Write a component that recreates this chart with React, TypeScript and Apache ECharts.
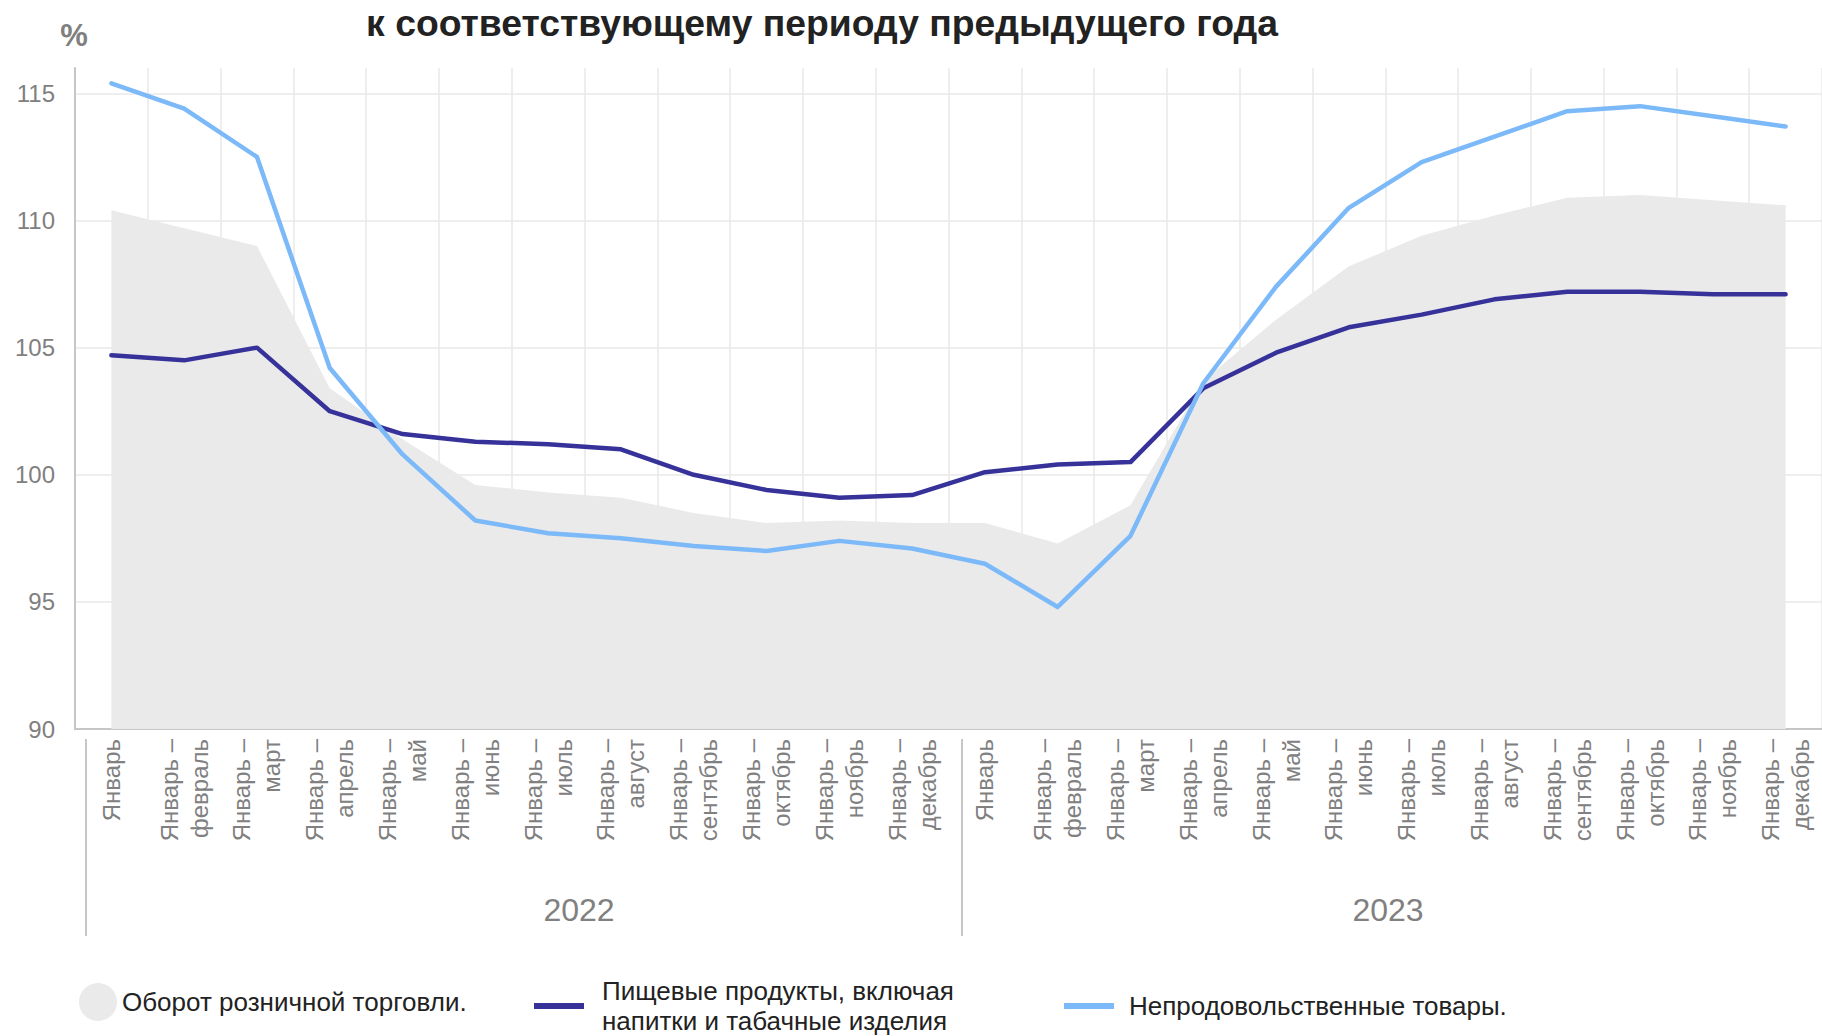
import React, { useEffect, useRef } from 'react';
import * as echarts from 'echarts';

const titleText = 'к соответствующему периоду предыдущего года';
const unitText = '%';
const years = ['2022', '2023'];
const periods = [
  'Январь',
  'Январь –\nфевраль',
  'Январь –\nмарт',
  'Январь –\nапрель',
  'Январь –\nмай',
  'Январь –\nиюнь',
  'Январь –\nиюль',
  'Январь –\nавгуст',
  'Январь –\nсентябрь',
  'Январь –\nоктябрь',
  'Январь –\nноябрь',
  'Январь –\nдекабрь',
];
const seriesNames = [
  'Оборот розничной торговли.',
  'Пищевые продукты, включая напитки и табачные изделия',
  'Непродовольственные товары.',
];
const retail = [110.4, 109.7, 109.0, 103.4, 101.4, 99.6, 99.3, 99.1, 98.5, 98.1, 98.2, 98.1, 98.1, 97.3, 98.8, 103.7, 106.1, 108.2, 109.4, 110.2, 110.9, 111.0, 110.8, 110.6];
const food = [104.7, 104.5, 105.0, 102.5, 101.6, 101.3, 101.2, 101.0, 100.0, 99.4, 99.1, 99.2, 100.1, 100.4, 100.5, 103.4, 104.8, 105.8, 106.3, 106.9, 107.2, 107.2, 107.1, 107.1];
const nonFood = [115.4, 114.4, 112.5, 104.2, 100.8, 98.2, 97.7, 97.5, 97.2, 97.0, 97.4, 97.1, 96.5, 94.8, 97.6, 103.6, 107.4, 110.5, 112.3, 113.3, 114.3, 114.5, 114.1, 113.7];

const FONT = '"Liberation Sans", Arial, Helvetica, sans-serif';
const COLORS = { retail: '#eaeaea', food: '#36329a', nonFood: '#7cb9f9' };

export default function App() {
  const ref = useRef<HTMLDivElement>(null);

  useEffect(() => {
    if (!ref.current) return;
    const chart = echarts.init(ref.current, undefined, { renderer: 'svg' });
    const categories = years.flatMap((y) => periods.map((p) => `${y}|${p}`));

    const lineSeries = (name: string, data: number[], color: string) => ({
      name,
      type: 'line',
      data,
      color,
      symbol: 'none',
      showSymbol: false,
      lineStyle: { width: 4.5, color, cap: 'round', join: 'round' },
    });

    const option: any = {
      animation: false,
      backgroundColor: '#ffffff',
      textStyle: { fontFamily: FONT },
      grid: { left: 75, top: 68, width: 1750, height: 661, containLabel: false },
      xAxis: {
        type: 'category',
        data: categories,
        boundaryGap: true,
        axisLine: { show: true, onZero: false, lineStyle: { color: '#c6c6c6', width: 2 } },
        axisTick: { show: false },
        axisLabel: {
          interval: 0,
          rotate: 90,
          fontSize: 24,
          lineHeight: 30,
          color: '#808080',
          fontFamily: FONT,
          margin: 10,
          formatter: (v: string) => v.split('|')[1],
        },
        splitLine: { show: true, interval: 0, lineStyle: { color: '#e9e9e9', width: 1.5 } },
      },
      yAxis: {
        type: 'value',
        min: 90,
        max: 116,
        interval: 5,
        axisLine: { show: true, lineStyle: { color: '#c6c6c6', width: 2 } },
        axisTick: { show: false },
        axisLabel: {
          fontSize: 24,
          color: '#808080',
          fontFamily: FONT,
          margin: 20,
          showMaxLabel: false,
        },
        splitLine: {
          show: true,
          showMinLine: false,
          showMaxLine: false,
          lineStyle: { color: '#e9e9e9', width: 1.5 },
        },
      },
      legend: [
        {
          left: 79,
          top: 983,
          padding: 0,
          itemWidth: 38,
          itemHeight: 38,
          selectedMode: false,
          textStyle: { fontSize: 26, color: '#222', fontFamily: FONT, lineHeight: 32 },
          data: [{ name: seriesNames[0], icon: 'circle', itemStyle: { color: COLORS.retail, borderWidth: 0 } }],
        },
        {
          left: 534,
          top: 976,
          padding: 0,
          itemWidth: 50,
          itemHeight: 6,
          selectedMode: false,
          formatter: () => 'Пищевые продукты, включая\nнапитки и табачные изделия',
          textStyle: { fontSize: 26, color: '#222', fontFamily: FONT, lineHeight: 30, padding: [0, 0, 0, 13] },
          data: [{ name: seriesNames[1], icon: 'rect', itemStyle: { color: COLORS.food, borderWidth: 0 } }],
        },
        {
          left: 1064,
          top: 990,
          padding: 0,
          itemWidth: 50,
          itemHeight: 6,
          selectedMode: false,
          textStyle: { fontSize: 26, color: '#222', fontFamily: FONT, lineHeight: 32, padding: [0, 0, 0, 10] },
          data: [{ name: seriesNames[2], icon: 'rect', itemStyle: { color: COLORS.nonFood, borderWidth: 0 } }],
        },
      ],
      series: [
        {
          name: seriesNames[0],
          type: 'line',
          data: retail,
          color: COLORS.retail,
          symbol: 'none',
          showSymbol: false,
          lineStyle: { width: 0, color: COLORS.retail },
          areaStyle: { color: COLORS.retail, opacity: 1 },
          z: 1,
        },
        { ...lineSeries(seriesNames[1], food, COLORS.food), z: 2 },
        { ...lineSeries(seriesNames[2], nonFood, COLORS.nonFood), z: 3 },
      ],
      graphic: [
        {
          type: 'text',
          x: 822,
          y: 22.5,
          style: {
            text: titleText,
            fill: '#222',
            fontSize: 37.3,
            fontWeight: 'bold',
            fontFamily: FONT,
            align: 'center',
            verticalAlign: 'middle',
          },
        },
        {
          type: 'text',
          x: 74,
          y: 35,
          style: {
            text: unitText,
            fill: '#808080',
            fontSize: 31,
            fontWeight: 'bold',
            fontFamily: FONT,
            align: 'center',
            verticalAlign: 'middle',
          },
        },
        {
          type: 'line',
          shape: { x1: 86, y1: 739, x2: 86, y2: 936 },
          style: { stroke: '#c6c6c6', lineWidth: 2 },
        },
        {
          type: 'line',
          shape: { x1: 962, y1: 739, x2: 962, y2: 936 },
          style: { stroke: '#c6c6c6', lineWidth: 2 },
        },
        {
          type: 'text',
          x: 579,
          y: 910,
          style: {
            text: years[0],
            fill: '#808080',
            fontSize: 32,
            fontFamily: FONT,
            align: 'center',
            verticalAlign: 'middle',
          },
        },
        {
          type: 'text',
          x: 1388,
          y: 910,
          style: {
            text: years[1],
            fill: '#808080',
            fontSize: 32,
            fontFamily: FONT,
            align: 'center',
            verticalAlign: 'middle',
          },
        },
      ],
    };

    chart.setOption(option);
    return () => chart.dispose();
  }, []);

  return (
    <div
      ref={ref}
      style={{ position: 'absolute', left: 0, top: 0, width: 1822, height: 1036, background: '#fff' }}
    />
  );
}
